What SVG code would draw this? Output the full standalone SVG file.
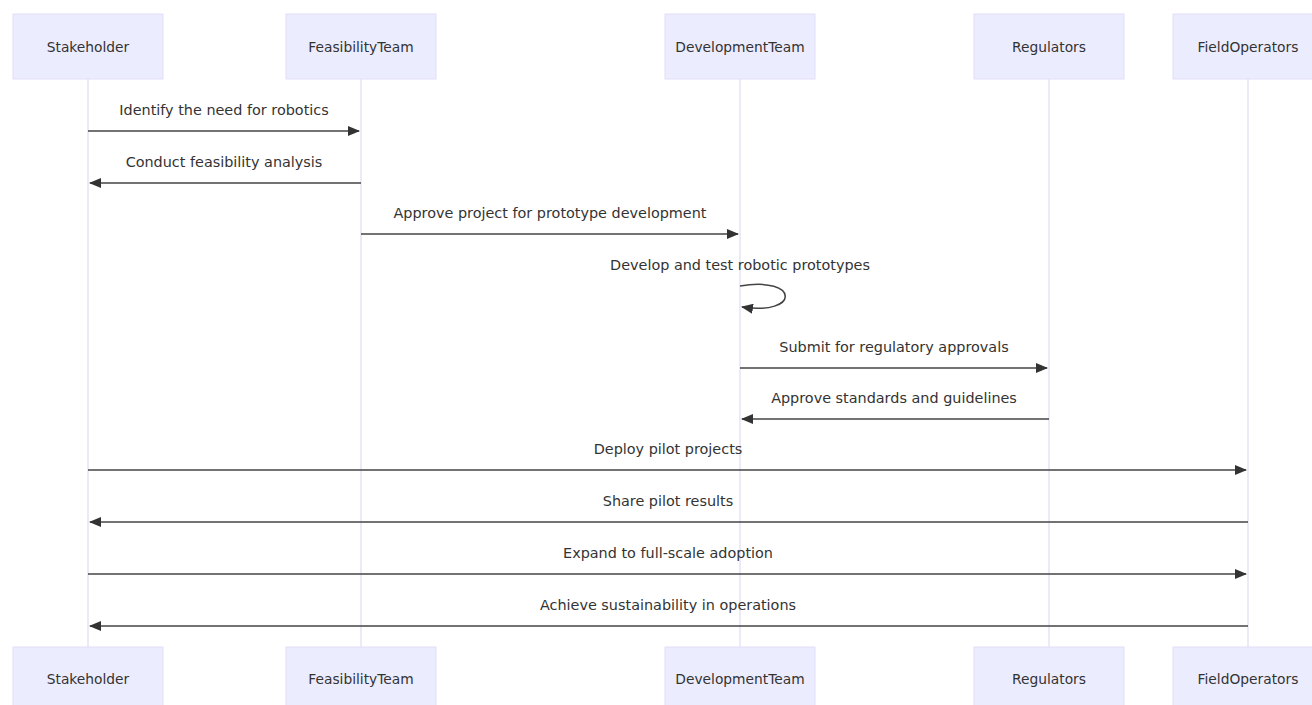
<svg xmlns="http://www.w3.org/2000/svg" width="1312" height="705" viewBox="0 0 1312 705">
<style>
.actor rect{fill:#ECECFF;stroke:#E2DEF6;stroke-width:1}
.actor text{font-family:"DejaVu Sans",Verdana,sans-serif;font-size:13.8px;fill:#333;text-anchor:middle;dominant-baseline:central}
.life{stroke:#D9D5EE;stroke-width:1}
.msg{stroke:#444;stroke-width:1.5;fill:none}
.lbl{font-family:"DejaVu Sans",Verdana,sans-serif;font-size:14.4px;fill:#333;text-anchor:middle}
</style>
<defs>
<marker id="ah" viewBox="0 0 12 10" refX="11" refY="5" markerWidth="12" markerHeight="10" markerUnits="userSpaceOnUse" orient="auto">
<path d="M0,0 L12,5 L0,10 z" fill="#333"/>
</marker>
</defs>
<rect width="1312" height="705" fill="#fff"/>
<g id="lifelines">
<line class="life" x1="88" y1="79" x2="88" y2="647"/>
<line class="life" x1="361" y1="79" x2="361" y2="647"/>
<line class="life" x1="740" y1="79" x2="740" y2="647"/>
<line class="life" x1="1049" y1="79" x2="1049" y2="647"/>
<line class="life" x1="1248" y1="79" x2="1248" y2="647"/>
</g>
<g id="actor-stakeholder" class="actor">
<rect x="13" y="14" width="150" height="65"/><text x="88" y="47">Stakeholder</text>
<rect x="13" y="647" width="150" height="65"/><text x="88" y="679">Stakeholder</text>
</g>
<g id="actor-feasibility" class="actor">
<rect x="286" y="14" width="150" height="65"/><text x="361" y="47">FeasibilityTeam</text>
<rect x="286" y="647" width="150" height="65"/><text x="361" y="679">FeasibilityTeam</text>
</g>
<g id="actor-development" class="actor">
<rect x="665" y="14" width="150" height="65"/><text x="740" y="47">DevelopmentTeam</text>
<rect x="665" y="647" width="150" height="65"/><text x="740" y="679">DevelopmentTeam</text>
</g>
<g id="actor-regulators" class="actor">
<rect x="974" y="14" width="150" height="65"/><text x="1049" y="47">Regulators</text>
<rect x="974" y="647" width="150" height="65"/><text x="1049" y="679">Regulators</text>
</g>
<g id="actor-fieldoperators" class="actor">
<rect x="1173" y="14" width="150" height="65"/><text x="1248" y="47">FieldOperators</text>
<rect x="1173" y="647" width="150" height="65"/><text x="1248" y="679">FieldOperators</text>
</g>
<g id="connectors">
<line class="msg" x1="88" y1="131" x2="359" y2="131" marker-end="url(#ah)"/>
<line class="msg" x1="361" y1="183" x2="90" y2="183" marker-end="url(#ah)"/>
<line class="msg" x1="361" y1="234" x2="738" y2="234" marker-end="url(#ah)"/>
<path class="msg" d="M740,286 C800,276 800,316 742,307" marker-end="url(#ah)"/>
<line class="msg" x1="740" y1="368" x2="1047" y2="368" marker-end="url(#ah)"/>
<line class="msg" x1="1049" y1="419" x2="742" y2="419" marker-end="url(#ah)"/>
<line class="msg" x1="88" y1="470" x2="1246" y2="470" marker-end="url(#ah)"/>
<line class="msg" x1="1248" y1="522" x2="90" y2="522" marker-end="url(#ah)"/>
<line class="msg" x1="88" y1="574" x2="1246" y2="574" marker-end="url(#ah)"/>
<line class="msg" x1="1248" y1="626" x2="90" y2="626" marker-end="url(#ah)"/>
</g>
<g id="labels">
<text class="lbl" x="224" y="115">Identify the need for robotics</text>
<text class="lbl" x="224" y="167">Conduct feasibility analysis</text>
<text class="lbl" x="550" y="218">Approve project for prototype development</text>
<text class="lbl" x="740" y="270">Develop and test robotic prototypes</text>
<text class="lbl" x="894" y="352">Submit for regulatory approvals</text>
<text class="lbl" x="894" y="403">Approve standards and guidelines</text>
<text class="lbl" x="668" y="454">Deploy pilot projects</text>
<text class="lbl" x="668" y="506">Share pilot results</text>
<text class="lbl" x="668" y="558">Expand to full-scale adoption</text>
<text class="lbl" x="668" y="610">Achieve sustainability in operations</text>
</g>
</svg>
